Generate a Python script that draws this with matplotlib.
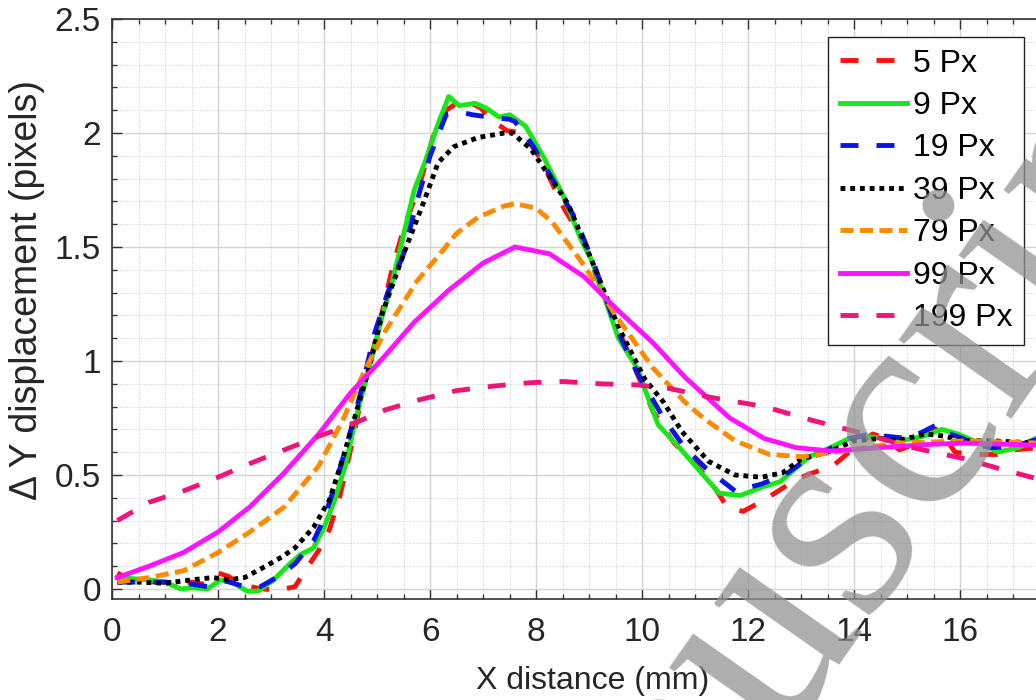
import matplotlib
matplotlib.use("Agg")
import matplotlib.pyplot as plt
from matplotlib.ticker import MultipleLocator

plt.rcParams["font.family"] = ["Liberation Sans", "DejaVu Sans"]

# ---- data (x in mm, dY in pixels) ----
x_5 = [0.1, 0.4, 0.9, 1.2, 1.5, 1.75, 2.0, 2.2, 2.4, 2.6, 2.85, 3.05, 3.25, 3.45, 3.7,
       3.9, 4.1, 4.3, 4.5, 4.75, 5.0, 5.3, 5.5, 5.8, 6.05, 6.3, 6.5, 6.7, 6.95, 7.2,
       7.45, 7.75, 8.1, 8.5, 8.9, 9.3, 9.75, 10.2, 10.6, 11.0, 11.35, 11.6, 11.9, 12.3,
       12.8, 13.1, 13.35, 13.6, 13.85, 14.1, 14.35, 14.6, 14.85, 15.2, 15.4, 15.6, 15.9,
       16.2, 16.5, 16.7, 17.0, 17.5]
y_5 = [0.07, 0.035, 0.03, 0.025, 0.03, 0.02, 0.07, 0.055, 0.02, 0.01, 0.0, -0.005, 0.0,
       0.01, 0.1, 0.17, 0.26, 0.41, 0.61, 0.89, 1.12, 1.42, 1.58, 1.77, 1.98, 2.1, 2.13,
       2.14, 2.11, 2.05, 2.01, 2.0, 1.88, 1.68, 1.52, 1.27, 1.03, 0.78, 0.64, 0.55, 0.45,
       0.36, 0.34, 0.39, 0.465, 0.5, 0.52, 0.54, 0.59, 0.64, 0.68, 0.66, 0.61, 0.64, 0.7,
       0.7, 0.6, 0.59, 0.59, 0.59, 0.61, 0.62]

x_9 = [0.1, 0.7, 1.0, 1.3, 1.5, 1.8, 2.05, 2.3, 2.55, 2.75, 3.05, 3.35, 3.55, 3.8, 4.0,
       4.2, 4.4, 4.6, 4.85, 5.1, 5.3, 5.7, 5.9, 6.15, 6.35, 6.55, 6.85, 7.05, 7.3, 7.5,
       7.8, 8.15, 8.5, 8.85, 9.05, 9.3, 9.55, 9.9, 10.3, 10.7, 11.15, 11.45, 11.85, 12.3,
       12.6, 12.85, 13.15, 13.55, 13.9, 14.2, 14.55, 15.0, 15.3, 15.65, 15.95, 16.45,
       16.7, 17.1, 17.5]
y_9 = [0.05, 0.04, 0.03, 0.0, 0.005, 0.0, 0.04, 0.025, -0.01, -0.01, 0.04, 0.11, 0.15,
       0.18, 0.27, 0.39, 0.54, 0.75, 0.97, 1.2, 1.36, 1.75, 1.87, 2.04, 2.16, 2.12, 2.13,
       2.11, 2.07, 2.08, 2.03, 1.89, 1.73, 1.53, 1.44, 1.27, 1.1, 0.97, 0.72, 0.62, 0.5,
       0.42, 0.41, 0.45, 0.47, 0.52, 0.58, 0.62, 0.66, 0.67, 0.66, 0.655, 0.67, 0.7,
       0.68, 0.63, 0.6, 0.62, 0.67]

x_19 = [0.1, 0.6, 1.0, 1.4, 1.8, 2.15, 2.5, 2.8, 3.1, 3.45, 3.8, 4.0, 4.2, 4.45, 4.7,
        4.95, 5.2, 5.5, 5.75, 6.0, 6.3, 6.6, 6.8, 7.1, 7.5, 7.6, 7.95, 8.35, 8.75, 9.1,
        9.5, 9.9, 10.4, 10.8, 11.2, 11.75, 12.25, 12.75, 13.1, 13.5, 13.9, 14.2, 14.6,
        15.0, 15.3, 15.55, 15.8, 16.05, 16.3, 16.6, 17.0, 17.5]
y_19 = [0.03, 0.03, 0.03, 0.025, 0.01, 0.035, 0.01, 0.01, 0.05, 0.11, 0.21, 0.31, 0.45,
        0.65, 0.87, 1.12, 1.3, 1.47, 1.7, 1.9, 2.08, 2.09, 2.08, 2.07, 2.06, 2.05, 1.94,
        1.78, 1.62, 1.42, 1.15, 0.95, 0.75, 0.62, 0.53, 0.43, 0.46, 0.51, 0.57, 0.61,
        0.66, 0.675, 0.67, 0.66, 0.69, 0.72, 0.68, 0.66, 0.63, 0.62, 0.625, 0.66]

x_39 = [0.1, 0.5, 1.0, 1.5, 1.9, 2.2, 2.5, 2.9, 3.2, 3.45, 3.8, 4.1, 4.35, 4.6, 4.85,
        5.1, 5.5, 5.9, 6.15, 6.45, 6.9, 7.4, 7.55, 7.9, 8.25, 8.6, 9.05, 9.55, 10.05,
        10.4, 10.75, 11.25, 11.75, 12.25, 12.65, 13.0, 13.5, 14.0, 14.5, 14.8, 15.35,
        15.7, 16.05, 16.6, 17.0, 17.5]
y_39 = [0.03, 0.03, 0.025, 0.04, 0.05, 0.04, 0.05, 0.1, 0.14, 0.18, 0.27, 0.39, 0.57,
        0.77, 0.97, 1.21, 1.47, 1.71, 1.87, 1.94, 1.98, 2.0, 2.0, 1.93, 1.81, 1.69, 1.44,
        1.15, 0.92, 0.82, 0.69, 0.56, 0.5, 0.49, 0.51, 0.57, 0.6, 0.65, 0.66, 0.65, 0.68,
        0.67, 0.65, 0.65, 0.645, 0.64]

x_79 = [0.1, 0.7, 1.35, 2.0, 2.6, 3.25, 3.9, 4.35, 4.75, 5.15, 5.75, 6.15, 6.5, 6.9,
        7.4, 7.6, 8.0, 8.3, 8.9, 9.5, 10.2, 10.8, 11.15, 11.75, 12.4, 13.0, 13.65, 14.2,
        14.8, 15.5, 16.1, 16.8, 17.5]
y_79 = [0.03, 0.05, 0.08, 0.16, 0.25, 0.36, 0.54, 0.74, 0.95, 1.13, 1.35, 1.46, 1.56,
        1.63, 1.68, 1.69, 1.67, 1.61, 1.42, 1.2, 0.97, 0.82, 0.75, 0.65, 0.59, 0.58, 0.6,
        0.62, 0.64, 0.645, 0.65, 0.645, 0.64]

x_99 = [0.1, 0.7, 1.35, 2.0, 2.6, 3.25, 3.9, 4.5, 5.1, 5.7, 6.35, 7.0, 7.6, 8.25, 8.9,
        9.55, 10.2, 10.8, 11.65, 12.3, 12.9, 13.55, 14.2, 14.8, 15.5, 16.1, 16.8, 17.5]
y_99 = [0.05, 0.1, 0.16, 0.25, 0.36, 0.51, 0.68, 0.86, 1.01, 1.17, 1.31, 1.43, 1.5, 1.47,
        1.37, 1.22, 1.08, 0.93, 0.75, 0.66, 0.62, 0.605, 0.615, 0.625, 0.635, 0.64,
        0.635, 0.63]

x_199 = [0.1, 0.7, 1.35, 2.0, 2.6, 3.25, 3.9, 4.5, 5.15, 5.8, 6.5, 7.2, 7.9, 8.5, 9.2,
         9.9, 10.5, 11.3, 12.3, 13.2, 14.2, 15.1, 16.1, 16.7, 17.5]
y_199 = [0.3, 0.38, 0.43, 0.49, 0.55, 0.61, 0.67, 0.72, 0.785, 0.83, 0.87, 0.89, 0.905,
         0.91, 0.9, 0.895, 0.88, 0.84, 0.8, 0.74, 0.68, 0.62, 0.57, 0.53, 0.48]

labels = ["5 Px", "9 Px", "19 Px", "39 Px", "79 Px", "99 Px", "199 Px"]
x_ticks = [0, 2, 4, 6, 8, 10, 12, 14, 16]
y_ticks = [0, 0.5, 1, 1.5, 2, 2.5]
y_tick_labels = ["0", "0.5", "1", "1.5", "2", "2.5"]

fig = plt.figure(figsize=(10.36, 7.0), dpi=100)
ax = fig.add_axes([112 / 1036, 101 / 700, 965 / 1036, 580 / 700])

ax.set_xlim(0, 18.2)
ax.set_ylim(-0.044, 2.5)

lw = 3.5
ax.plot(x_5, y_5, color="#ff1010", lw=lw, dashes=(3.7, 3.7), label=labels[0])
ax.plot(x_9, y_9, color="#19e619", lw=lw, ls="-", label=labels[1])
ax.plot(x_19, y_19, color="#0a14e6", lw=lw, dashes=(3.7, 3.7), label=labels[2])
ax.plot(x_39, y_39, color="black", lw=lw, dashes=(1.0, 1.0), label=labels[3])
ax.plot(x_79, y_79, color="#ff8a00", lw=lw, dashes=(2.7, 1.3), label=labels[4])
ax.plot(x_99, y_99, color="#ff14ff", lw=lw, ls="-", label=labels[5])
ax.plot(x_199, y_199, color="#f0147a", lw=lw, dashes=(3.7, 3.7), label=labels[6])

# only 0..16 labelled; the frame runs on past the picture's right edge
ax.set_xticks(x_ticks)
ax.xaxis.set_minor_locator(MultipleLocator(0.5))
ax.yaxis.set_minor_locator(MultipleLocator(0.1))
ax.set_yticks(y_ticks)
ax.set_yticklabels(y_tick_labels)

ax.grid(which="major", color="#d4d4d4", lw=1.0, ls="-")
ax.grid(which="minor", color="#cdcdcd", lw=0.7, ls=(0, (1, 1.5)))
ax.set_axisbelow(True)

ax.tick_params(which="both", direction="in", top=True, right=True,
               color="#333333", width=1.0, labelsize=24, labelcolor="#262626")
ax.tick_params(which="major", length=7)
ax.tick_params(which="minor", length=3.5)
ax.tick_params(axis="x", pad=13)
ax.tick_params(axis="y", pad=8)
for s in ax.spines.values():
    s.set_color("#333333")
    s.set_linewidth(1.2)

ax.set_xlabel("X distance (mm)", fontsize=23, color="#262626")
ax.xaxis.set_label_coords(0.498, -0.116)
ax.set_ylabel("\u0394 Y displacement (pixels)", fontsize=27, color="#262626")
ax.yaxis.set_label_coords(-0.069, 0.533)

leg = ax.legend(loc="upper right", bbox_to_anchor=(1024 / 1036, 1 - 37 / 700),
                bbox_transform=fig.transFigure, fontsize=23, frameon=True,
                fancybox=False, framealpha=1, edgecolor="#222222",
                handlelength=2.1, handletextpad=0.2, labelspacing=0.39,
                borderpad=0.36, borderaxespad=0)
leg.get_frame().set_linewidth(1.0)

# faint journal watermark across the lower right
fig.text(794 / 1036, 1 - 592 / 700, "Manuscript", fontsize=215,
         family=["Liberation Serif", "DejaVu Serif"], color="#929292", alpha=0.75,
         rotation=55, rotation_mode="anchor", ha="center", va="center", zorder=20)

fig.savefig("out.png", dpi=100)
